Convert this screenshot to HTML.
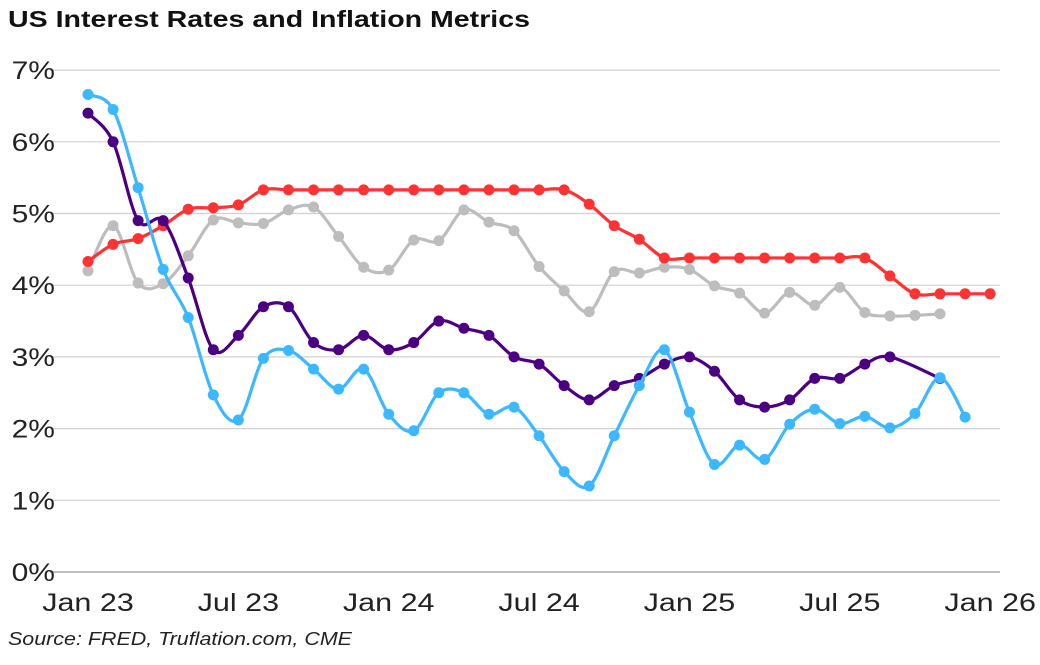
<!DOCTYPE html>
<html><head><meta charset="utf-8"><style>
body{margin:0;background:#fff;width:1040px;height:660px;overflow:hidden;font-family:"Liberation Sans",sans-serif}
</style></head><body>
<svg width="1040" height="660" xmlns="http://www.w3.org/2000/svg">
<text x="8" y="27" font-size="23" font-weight="bold" fill="#111" textLength="522" lengthAdjust="spacingAndGlyphs">US Interest Rates and Inflation Metrics</text>
<g id="grid"></g><g id="series"></g><g id="axes"></g>
<text x="8" y="645" font-size="18" font-style="italic" fill="#222" textLength="344" lengthAdjust="spacingAndGlyphs">Source: FRED, Truflation.com, CME</text>
</svg>
<script>
const yTicks=[0,1,2,3,4,5,6,7];
const xTickLabels=["Jan 23","Jul 23","Jan 24","Jul 24","Jan 25","Jul 25","Jan 26"];
const xTickMonths=[0,6,12,18,24,30,36];
const fedFunds=[4.33,4.57,4.65,4.83,5.06,5.08,5.12,5.33,5.33,5.33,5.33,5.33,5.33,5.33,5.33,5.33,5.33,5.33,5.33,5.33,5.13,4.83,4.64,4.38,4.38,4.38,4.38,4.38,4.38,4.38,4.38,4.38,4.13,3.88,3.88,3.88,3.88];
const treasury10y=[4.2,4.83,4.03,4.02,4.41,4.91,4.87,4.86,5.05,5.09,4.68,4.25,4.21,4.63,4.62,5.05,4.88,4.76,4.26,3.92,3.63,4.19,4.17,4.25,4.22,3.99,3.89,3.61,3.90,3.72,3.97,3.62,3.57,3.58,3.60];
const cpi=[6.4,6.0,4.9,4.9,4.1,3.1,3.3,3.7,3.7,3.2,3.1,3.3,3.1,3.2,3.5,3.4,3.3,3.0,2.9,2.6,2.4,2.6,2.7,2.9,3.0,2.8,2.4,2.3,2.4,2.7,2.7,2.9,3.0,null,2.7];
const truflation=[6.66,6.45,5.36,4.22,3.55,2.47,2.12,2.98,3.09,2.83,2.55,2.83,2.20,1.97,2.50,2.50,2.20,2.30,1.90,1.40,1.20,1.90,2.60,3.10,2.23,1.50,1.77,1.57,2.06,2.27,2.07,2.17,2.01,2.21,2.71,2.16];
const NS="http://www.w3.org/2000/svg";
const X=m=>88+m*25.06, Y=v=>572-v*71.7;
function mk(t,a,p){const e=document.createElementNS(NS,t);for(const k in a)e.setAttribute(k,a[k]);p.appendChild(e);return e;}
const grid=document.getElementById('grid'),axes=document.getElementById('axes'),ser=document.getElementById('series');
function widen(t,f){const w=t.getComputedTextLength();t.setAttribute('textLength',w*f);t.setAttribute('lengthAdjust','spacingAndGlyphs');}
yTicks.forEach(v=>{
 const l=mk('line',{x1:50,x2:1000,y1:Y(v),y2:Y(v),stroke:v===0?'#999':'#d0d0d0','stroke-width':1.2},grid);
 
 
 const t=mk('text',{x:55,y:Y(v)+9,'font-size':25,'text-anchor':'end',fill:'#222'},axes);
 t.textContent=v+'%';
 
 
 widen(t,1.2);
});
xTickLabels.forEach((s,i)=>{
 const t=mk('text',{x:X(xTickMonths[i]),y:611,'font-size':25,'text-anchor':'middle',fill:'#222'},axes);
 t.textContent=s;
 
 
 widen(t,1.22);
});
function path(pts){
 let d='M'+pts[0][0]+','+pts[0][1];
 for(let i=0;i<pts.length-1;i++){
  const p0=pts[i-1]||pts[i],p1=pts[i],p2=pts[i+1],p3=pts[i+2]||p2;
  const c1=[p1[0]+(p2[0]-p0[0])/6,p1[1]+(p2[1]-p0[1])/6],c2=[p2[0]-(p3[0]-p1[0])/6,p2[1]-(p3[1]-p1[1])/6];
  d+=`C${c1[0]},${c1[1]} ${c2[0]},${c2[1]} ${p2[0]},${p2[1]}`;
 }
 return d;
}
function draw(arr,color,name){
 const g=mk('g',{},ser);
 
 
 const pts=[];arr.forEach((v,i)=>{if(v!==null)pts.push([X(i),Y(v)]);});
 mk('path',{d:path(pts),fill:'none',stroke:color,'stroke-width':3.2},g);
 pts.forEach(p=>{
  const c=mk('circle',{cx:p[0],cy:p[1],r:5.5,fill:color},g);
  
  
 });
}
draw(treasury10y,'#bdbdbd','treasury-10y');
draw(fedFunds,'#ff3333','fed-funds');
draw(cpi,'#4b0082','cpi');
draw(truflation,'#3bb8ff','truflation');
</script>
</body></html>
